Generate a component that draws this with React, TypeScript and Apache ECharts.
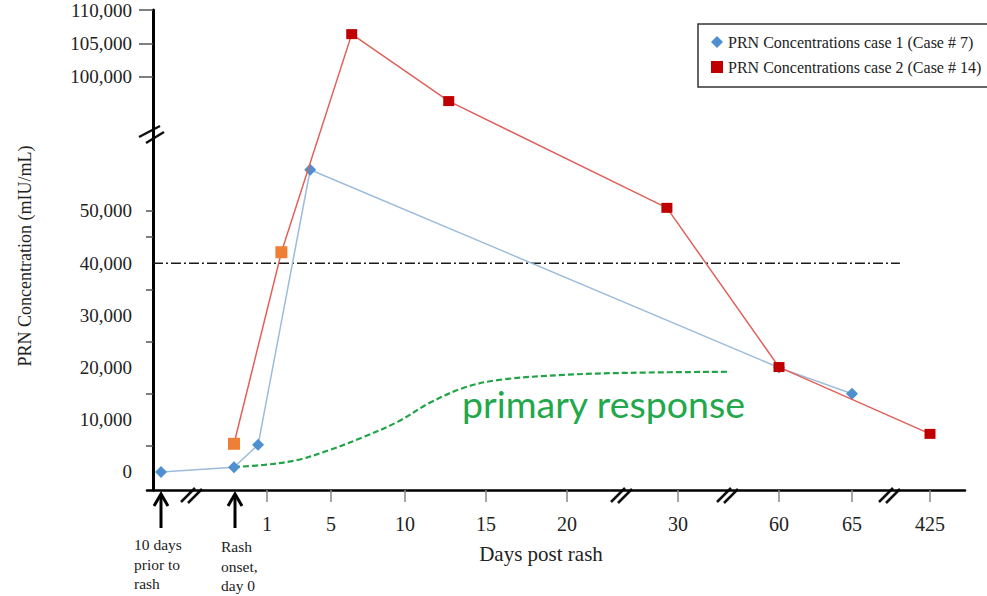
import React, { useEffect, useRef } from "react";
import * as echarts from "echarts";

// ---- broken x axis: day -> axis position (tick scale)
const xTickDays = [-10, 0, 1, 5, 10, 15, 20, 30, 60, 65, 425];
const xTickPos = [8, 81, 114, 178, 252, 333, 414, 525, 626, 699, 777];
const xLabeledDays = [1, 5, 10, 15, 20, 30, 60, 65, 425];

// ---- broken y axis
const yLabelValues = [0, 10000, 20000, 30000, 40000, 50000, 100000, 105000, 110000];
const yMinorTickValues = [5000, 15000, 25000, 35000, 45000, 50000];
const yUpperTickValues = [100000, 105000, 110000];
const yLowerLimit = 65000;
const yUpperBase = 100000;
const yUpperBaseDisplay = 75670;
const yUpperStretch = 1.283;

// ---- data
const case1Name = "PRN Concentrations case 1 (Case # 7)";
const case1Days = [-10, 0, 0.73, 3.7, 60, 65];
const case1Values = [0, 900, 5200, 57900, 20000, 15000];

const case2Name = "PRN Concentrations case 2 (Case # 14)";
const case2Days = [0, 1.9, 6.4, 12.7, 29, 60, 425];
const case2Values = [5400, 42100, 106400, 96400, 50600, 20100, 7300];
const case2EarlyPoints = 2;

const primaryDays = [0, 0.88, 2.9, 4.9, 7.2, 9.5, 11.5, 13.6, 15.7, 19.8, 25.7, 44.6];
const primaryValues = [960, 1340, 2300, 4200, 6700, 9600, 13200, 16100, 17600, 18600, 19000, 19200];

const thresholdValue = 40000;
const thresholdDays = [-11.1, 286];

const SERIF = '"Liberation Serif", "Times New Roman", Times, serif';

function dayToPos(day: number): number {
  const n = xTickDays.length;
  let i = 0;
  if (day <= xTickDays[0]) i = 0;
  else if (day >= xTickDays[n - 1]) i = n - 2;
  else {
    while (i < n - 2 && day > xTickDays[i + 1]) i++;
  }
  const d0 = xTickDays[i], d1 = xTickDays[i + 1];
  const p0 = xTickPos[i], p1 = xTickPos[i + 1];
  return p0 + ((day - d0) / (d1 - d0)) * (p1 - p0);
}

function yToDisplay(v: number): number {
  if (v <= yLowerLimit) return v;
  return yUpperBaseDisplay + (v - yUpperBase) * yUpperStretch;
}

function displayToY(d: number): number {
  if (d <= yLowerLimit) return d;
  return yUpperBase + (d - yUpperBaseDisplay) / yUpperStretch;
}

function breakMarks(cx: number, cy: number, color = "#111") {
  return [
    { type: "line", shape: { x1: cx - 10, y1: cy + 7, x2: cx + 4, y2: cy - 7 }, style: { stroke: color, lineWidth: 2.5 } },
    { type: "line", shape: { x1: cx - 3, y1: cy + 8, x2: cx + 11, y2: cy - 6 }, style: { stroke: color, lineWidth: 2.5 } },
  ];
}

function arrow(x: number) {
  return [
    { type: "line", shape: { x1: x, y1: 528, x2: x, y2: 496 }, style: { stroke: "#000", lineWidth: 3 } },
    { type: "polyline", shape: { points: [[x - 7, 506], [x, 494], [x + 7, 506]] }, style: { stroke: "#000", lineWidth: 3, fill: "none" } },
  ];
}

export default function App() {
  const ref = useRef<HTMLDivElement>(null);

  useEffect(() => {
    if (!ref.current) return;
    const chart = echarts.init(ref.current, undefined, { renderer: "svg" });

    const yMin = -3450;
    const yMax = yToDisplay(110000);

    const option: any = {
      animation: false,
      backgroundColor: "#fff",
      grid: { left: 147, right: 22, top: 10, bottom: 106, containLabel: false, outerBoundsMode: "none" },
      legend: {
        orient: "vertical",
        left: 698,
        top: 24,
        padding: [10, 10, 12, 13],
        itemGap: 9,
        itemWidth: 12,
        itemHeight: 12,
        borderColor: "#333",
        borderWidth: 1.5,
        selectedMode: false,
        textStyle: { fontFamily: SERIF, fontSize: 16, color: "#222" },
        data: [
          { name: case1Name, icon: "diamond" },
          { name: case2Name, icon: "rect" },
        ],
      },
      xAxis: {
        type: "value",
        min: -6,
        max: 812,
        axisLine: { onZero: false, lineStyle: { color: "#000", width: 2.5 } },
        axisTick: {
          show: true,
          length: 12,
          customValues: xLabeledDays.map(dayToPos),
          lineStyle: { color: "#888", width: 1.5 },
        },
        axisLabel: {
          customValues: xLabeledDays.map(dayToPos),
          margin: 24,
          fontFamily: SERIF,
          fontSize: 20,
          color: "#222",
          formatter: (v: number) => {
            let best = 0;
            let bd = Infinity;
            xLabeledDays.forEach((d, i) => {
              const dist = Math.abs(dayToPos(d) - v);
              if (dist < bd) { bd = dist; best = i; }
            });
            return String(xLabeledDays[best]);
          },
        },
        splitLine: { show: false },
      },
      yAxis: [
        {
          type: "value",
          min: yMin,
          max: yMax,
          offset: -6,
          axisLine: { show: true, onZero: false, lineStyle: { color: "#000", width: 3 } },
          axisTick: {
            show: true,
            length: 7,
            customValues: yMinorTickValues.map(yToDisplay),
            lineStyle: { color: "#555", width: 1.5 },
          },
          axisLabel: {
            customValues: yLabelValues.map(yToDisplay),
            margin: 21,
            fontFamily: SERIF,
            fontSize: 19,
            color: "#222",
            formatter: (v: number) => {
              const real = Math.round(displayToY(v) / 1000) * 1000;
              return real.toLocaleString("en-US");
            },
          },
          splitLine: { show: false },
        },
        {
          type: "value",
          min: yMin,
          max: yMax,
          offset: -6,
          position: "left",
          axisLine: { show: false, onZero: false },
          axisTick: {
            show: true,
            length: 14,
            customValues: yUpperTickValues.map(yToDisplay),
            lineStyle: { color: "#555", width: 1.5 },
          },
          axisLabel: { show: false },
          splitLine: { show: false },
        },
      ],
      series: [
        {
          name: "threshold",
          type: "line",
          silent: true,
          symbol: "none",
          z: 1,
          data: thresholdDays.map((d) => [dayToPos(d), yToDisplay(thresholdValue)]),
          lineStyle: { color: "#1a1a1a", width: 1.5, type: [10, 3, 2, 3] },
        },
        {
          name: "primary response",
          type: "line",
          silent: true,
          symbol: "none",
          smooth: 0.35,
          z: 2,
          data: primaryDays.map((d, i) => [dayToPos(d), yToDisplay(primaryValues[i])]),
          lineStyle: { color: "#23a347", width: 2.2, type: [6, 3] },
        },
        {
          name: case1Name,
          type: "line",
          symbol: "diamond",
          symbolSize: 12,
          z: 3,
          data: case1Days.map((d, i) => [dayToPos(d), yToDisplay(case1Values[i])]),
          itemStyle: { color: "#4e8fd0" },
          lineStyle: { color: "#9cbcdc", width: 1.5 },
        },
        {
          name: case2Name,
          type: "line",
          symbol: "rect",
          symbolSize: [11, 10],
          z: 4,
          data: case2Days.map((d, i) => {
            const item: any = { value: [dayToPos(d), yToDisplay(case2Values[i])] };
            if (i < case2EarlyPoints) {
              item.itemStyle = { color: "#ef7f35" };
              item.symbolSize = 12;
            }
            return item;
          }),
          itemStyle: { color: "#c00000" },
          lineStyle: { color: "#e0605a", width: 1.5 },
        },
      ],
      graphic: [
        {
          type: "text",
          x: 25,
          y: 256,
          rotation: Math.PI / 2,
          style: {
            text: "PRN Concentration (mIU/mL)",
            fontFamily: SERIF,
            fontSize: 18,
            fill: "#222",
            align: "center",
            verticalAlign: "middle",
          },
        },
        {
          type: "text",
          x: 541,
          y: 554,
          style: {
            text: "Days post rash",
            fontFamily: SERIF,
            fontSize: 21,
            fill: "#222",
            align: "center",
            verticalAlign: "middle",
          },
        },
        {
          type: "text",
          x: 462,
          y: 403,
          style: {
            text: "primary response",
            fontFamily: "Lato, 'Open Sans', sans-serif",
            fontSize: 37.5,
            fill: "#22a84a",
            align: "left",
            verticalAlign: "middle",
          },
        },
        {
          type: "text",
          x: 134,
          y: 535,
          style: {
            text: "10 days\nprior to\nrash",
            fontFamily: SERIF,
            fontSize: 15.5,
            lineHeight: 19.5,
            fill: "#222",
            align: "left",
            verticalAlign: "top",
          },
        },
        {
          type: "text",
          x: 221,
          y: 537,
          style: {
            text: "Rash\nonset,\nday 0",
            fontFamily: SERIF,
            fontSize: 15.5,
            lineHeight: 19.5,
            fill: "#222",
            align: "left",
            verticalAlign: "top",
          },
        },
        ...arrow(161),
        ...arrow(235),
        ...breakMarks(191, 495),
        ...breakMarks(621, 495),
        ...breakMarks(727, 495),
        ...breakMarks(889, 495),
        { type: "line", shape: { x1: 139, y1: 137, x2: 160, y2: 126 }, style: { stroke: "#111", lineWidth: 2.5 } },
        { type: "line", shape: { x1: 146, y1: 143, x2: 164, y2: 132 }, style: { stroke: "#111", lineWidth: 2.5 } },
      ],
    };

    chart.setOption(option);
    return () => chart.dispose();
  }, []);

  return (
    <div
      ref={ref}
      style={{ position: "absolute", left: 0, top: 0, width: 987, height: 596, background: "#fff" }}
    />
  );
}
